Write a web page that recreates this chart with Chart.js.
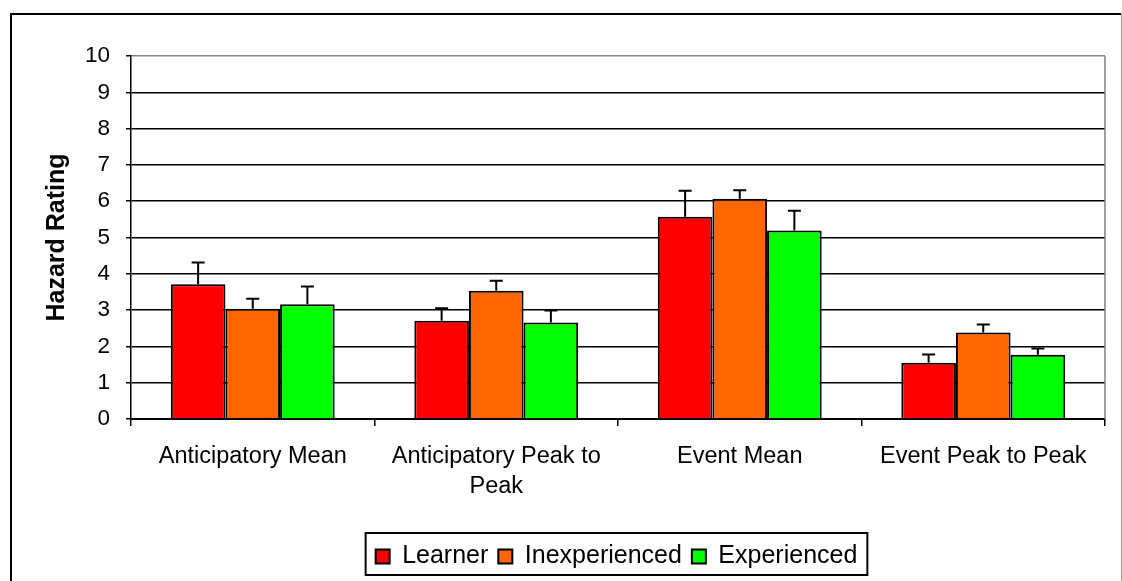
<!DOCTYPE html>
<html>
<head>
<meta charset="utf-8">
<script src="https://cdn.jsdelivr.net/npm/chart.js@4"></script>
<style>
  body { margin: 0; background: #fff; }
</style>
</head>
<body>
<canvas id="hazardChart" width="1122" height="581"></canvas>
<script>
const categories = ["Anticipatory Mean", ["Anticipatory Peak to", "Peak"], "Event Mean", "Event Peak to Peak"];
const learner = [3.71, 2.71, 5.57, 1.55];
const learnerErr = [0.60, 0.34, 0.72, 0.23];
const inexperienced = [3.04, 3.53, 6.07, 2.38];
const inexperiencedErr = [0.27, 0.28, 0.23, 0.22];
const experienced = [3.16, 2.66, 5.19, 1.77];
const experiencedErr = [0.49, 0.33, 0.55, 0.17];
const yTicks = [0, 1, 2, 3, 4, 5, 6, 7, 8, 9, 10];

const FONT = "'Liberation Sans', Arial, sans-serif";

// white page + outer frame + grey plot border
const framePlugin = {
  id: "frame",
  beforeDraw(chart) {
    const ctx = chart.ctx;
    ctx.save();
    ctx.fillStyle = "#fff";
    ctx.fillRect(0, 0, chart.width, chart.height);
    ctx.restore();
  },
  afterDraw(chart) {
    const ctx = chart.ctx;
    const area = chart.chartArea;
    ctx.save();
    ctx.strokeStyle = "#000";
    ctx.lineWidth = 2;
    ctx.beginPath();
    ctx.moveTo(11, chart.height);
    ctx.lineTo(11, 14);
    ctx.lineTo(1121, 14);
    ctx.stroke();
    ctx.strokeStyle = "#a0a0a0";
    ctx.lineWidth = 1;
    ctx.beginPath();
    ctx.moveTo(1121.5, 14);
    ctx.lineTo(1121.5, chart.height);
    ctx.stroke();
    // right side of the plot area
    ctx.strokeStyle = "#808080";
    ctx.lineWidth = 1.5;
    ctx.beginPath();
    ctx.moveTo(area.right, area.top);
    ctx.lineTo(area.right, area.bottom);
    ctx.stroke();
    // legend frame
    const boxes = chart.legend.legendHitBoxes;
    if (boxes && boxes.length) {
      const l = Math.min(...boxes.map(b => b.left));
      const r = Math.max(...boxes.map(b => b.left + b.width));
      const t = Math.min(...boxes.map(b => b.top));
      const btm = Math.max(...boxes.map(b => b.top + b.height));
      ctx.strokeStyle = "#000";
      ctx.lineWidth = 2;
      ctx.strokeRect(l - 10, t - 11, r - l + 20, btm - t + 17);
    }
    ctx.restore();
  }
};

// move the legend right so it sits under the middle of the page
const legendShift = {
  id: "legendShift",
  afterLayout(chart) {
    chart.legend.left += 64;
    chart.legend.right += 64;
  }
};

// error bars (positive side only)
const errorBars = {
  id: "errorBars",
  afterDatasetsDraw(chart) {
    const ctx = chart.ctx;
    const y = chart.scales.y;
    const errs = [learnerErr, inexperiencedErr, experiencedErr];
    ctx.save();
    ctx.strokeStyle = "#000";
    ctx.lineWidth = 2;
    chart.data.datasets.forEach((ds, i) => {
      const meta = chart.getDatasetMeta(i);
      meta.data.forEach((bar, j) => {
        const top = y.getPixelForValue(ds.data[j] + errs[i][j]);
        ctx.beginPath();
        ctx.moveTo(bar.x, bar.y);
        ctx.lineTo(bar.x, top);
        ctx.moveTo(bar.x - 6.5, top);
        ctx.lineTo(bar.x + 6.5, top);
        ctx.stroke();
      });
    });
    ctx.restore();
  }
};

const barData = {
  labels: categories,
  datasets: [
    {
      label: "Learner",
      data: learner,
      backgroundColor: "#ff0000",
      borderColor: "#000",
      borderWidth: 2,
    },
    {
      label: "Inexperienced",
      data: inexperienced,
      backgroundColor: "#ff6600",
      borderColor: "#000",
      borderWidth: 2,
    },
    {
      label: "Experienced",
      data: experienced,
      backgroundColor: "#00ff00",
      borderColor: "#000",
      borderWidth: 2,
    },
  ],
};

const barConfig = {
  type: "bar",
  data: barData,
  plugins: [framePlugin, legendShift, errorBars],
  options: {
    responsive: false,
    animation: false,
    categoryPercentage: 0.673,
    barPercentage: 1.0,
    layout: { padding: { top: 56, right: 17, left: 0, bottom: 2 } },
    plugins: {
      tooltip: { enabled: false },
      legend: {
        position: "bottom",
        labels: {
          color: "#000",
          font: { family: FONT, size: 25 },
          boxWidth: 14,
          boxHeight: 14,
          padding: 10,
        },
      },
    },
    scales: {
      x: {
        afterFit(scale) { scale.height = 115; },
        ticks: {
          color: "#000",
          font: { family: FONT, size: 23.5, lineHeight: 1.28 },
          padding: 15,
          maxRotation: 0,
          autoSkip: false,
        },
        grid: { drawOnChartArea: false, drawTicks: true, tickLength: 7, color: "#000", lineWidth: 1.5 },
        border: { color: "#000", width: 2 },
      },
      y: {
        min: 0,
        max: 10,
        afterFit(scale) { scale.width = 131; },
        afterBuildTicks(scale) { scale.ticks = yTicks.map(v => ({ value: v })); },
        ticks: {
          color: "#000",
          font: { family: FONT, size: 22.5 },
          padding: 16,
        },
        grid: {
          color: (c) => (c.tick && c.tick.value === 10 ? "#808080" : "#000"),
          lineWidth: 1.5,
          tickLength: 5,
          tickColor: "#000",
        },
        border: { color: "#000", width: 1.5 },
        title: {
          display: true,
          text: "Hazard Rating",
          color: "#000",
          font: { family: FONT, size: 25, weight: "bold" },
          padding: { top: 42, bottom: 0 },
        },
      },
    },
  },
};

const hazardChart = new Chart(document.getElementById("hazardChart"), barConfig);
</script>
</body>
</html>
